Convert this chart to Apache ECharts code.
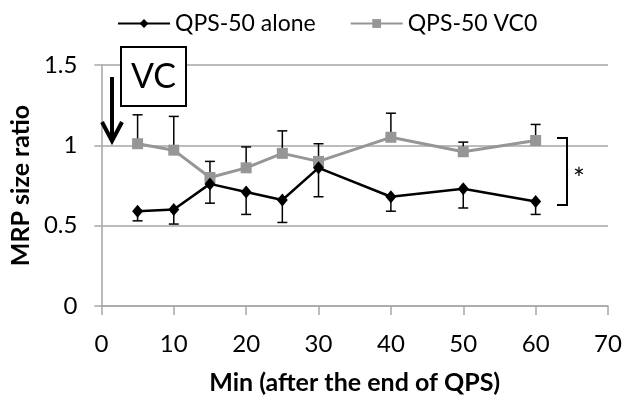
<!DOCTYPE html>
<html>
<head>
<meta charset="utf-8">
<script src="https://cdn.jsdelivr.net/npm/echarts@6/dist/echarts.min.js"></script>
<style>html,body{margin:0;padding:0;background:#fff}#c{width:625px;height:400px}</style>
</head>
<body>
<div id="c"></div>
<script>
const xs = [5, 10, 15, 20, 25, 30, 40, 50, 60];
const aloneMean  = [0.59, 0.60, 0.76, 0.71, 0.66, 0.86, 0.68, 0.73, 0.65];
const aloneLower = [0.53, 0.51, 0.64, 0.57, 0.52, 0.68, 0.59, 0.61, 0.57];
const vc0Mean    = [1.01, 0.97, 0.80, 0.86, 0.95, 0.90, 1.05, 0.96, 1.03];
const vc0Upper   = [1.19, 1.18, 0.90, 0.99, 1.09, 1.01, 1.20, 1.02, 1.13];
const xTicks = [0, 10, 20, 30, 40, 50, 60, 70];
const yTicks = [0, 0.5, 1, 1.5];
const seriesNames = ['QPS-50 alone', 'QPS-50 VC0'];

const FONT = 'Lato';
const gridGray = '#a6a6a6';

function errRender(params, api) {
  const x = api.value(0), from = api.value(1), to = api.value(2);
  const p1 = api.coord([x, from]);
  const p2 = api.coord([x, to]);
  const cw = 5;
  return {
    type: 'group',
    children: [
      { type: 'line', shape: { x1: p1[0], y1: p1[1], x2: p2[0], y2: p2[1] }, style: { stroke: '#000', lineWidth: 1.5 } },
      { type: 'line', shape: { x1: p2[0] - cw, y1: p2[1], x2: p2[0] + cw, y2: p2[1] }, style: { stroke: '#000', lineWidth: 1.5 } }
    ]
  };
}

const chart = echarts.init(document.getElementById('c'));
chart.setOption({
  animation: false,
  backgroundColor: '#fff',
  legend: {
    data: seriesNames,
    left: 112, top: 7,
    itemWidth: 52, itemHeight: 11, itemGap: 34,
    textStyle: { fontFamily: FONT, fontSize: 23, color: '#000' }
  },
  grid: { left: 101, right: 17, top: 65, bottom: 94 },
  xAxis: {
    type: 'value', min: xTicks[0], max: xTicks[xTicks.length - 1], interval: 10,
    name: 'Min (after the end of QPS)', nameLocation: 'middle', nameGap: 64,
    nameTextStyle: { fontFamily: FONT, fontSize: 25, fontWeight: 'bold', color: '#000' },
    axisLine: { lineStyle: { color: gridGray, width: 1.5 } },
    axisTick: { show: true, length: 9, lineStyle: { color: gridGray, width: 1.5 } },
    axisLabel: { fontFamily: FONT, fontSize: 24, color: '#000', margin: 26 },
    splitLine: { show: false }
  },
  yAxis: {
    type: 'value', min: yTicks[0], max: yTicks[yTicks.length - 1], interval: 0.5,
    name: 'MRP size ratio', nameLocation: 'middle', nameGap: 68,
    nameTextStyle: { fontFamily: FONT, fontSize: 25, fontWeight: 'bold', color: '#000' },
    axisLine: { show: true, lineStyle: { color: gridGray, width: 1.5 } },
    axisTick: { show: true, length: 7, lineStyle: { color: gridGray, width: 1.5 } },
    axisLabel: { fontFamily: FONT, fontSize: 24, color: '#000', margin: 24 },
    splitLine: { show: true, lineStyle: { color: gridGray, width: 1.5 } }
  },
  series: [
    {
      name: 'aloneErr', type: 'custom', renderItem: errRender, z: 1, silent: true,
      data: xs.map((x, i) => [x, aloneMean[i], aloneLower[i]])
    },
    {
      name: 'vc0Err', type: 'custom', renderItem: errRender, z: 1, silent: true,
      data: xs.map((x, i) => [x, vc0Mean[i], vc0Upper[i]])
    },
    {
      name: seriesNames[1], type: 'line', z: 3,
      data: xs.map((x, i) => [x, vc0Mean[i]]),
      symbol: 'rect', symbolSize: 11,
      lineStyle: { color: '#969696', width: 3 },
      itemStyle: { color: '#969696' }
    },
    {
      name: seriesNames[0], type: 'line', z: 4,
      data: xs.map((x, i) => [x, aloneMean[i]]),
      symbol: 'diamond', symbolSize: [11, 13],
      lineStyle: { color: '#000', width: 2.5 },
      itemStyle: { color: '#000' }
    }
  ],
  graphic: [
    { type: 'rect', z: 10, shape: { x: 121, y: 47, width: 65, height: 59 }, style: { fill: '#fff', stroke: '#000', lineWidth: 2 } },
    { type: 'text', z: 11, x: 153.5, y: 77, style: { text: 'VC', fontFamily: FONT, fontSize: 34, fill: '#000', align: 'center', verticalAlign: 'middle' } },
    { type: 'line', z: 10, shape: { x1: 112, y1: 77, x2: 112, y2: 140 }, style: { stroke: '#000', lineWidth: 4 } },
    { type: 'polyline', z: 10, shape: { points: [[102, 122], [112, 141], [122, 122]] }, style: { stroke: '#000', lineWidth: 4, fill: null } },
    { type: 'polyline', z: 10, shape: { points: [[557, 138], [567, 138], [567, 205], [557, 205]] }, style: { stroke: '#000', lineWidth: 2, fill: null } },
    { type: 'text', z: 10, x: 579, y: 180, style: { text: '*', fontFamily: FONT, fontSize: 28, fill: '#000', align: 'center', verticalAlign: 'middle' } }
  ]
});
</script>
</body>
</html>
